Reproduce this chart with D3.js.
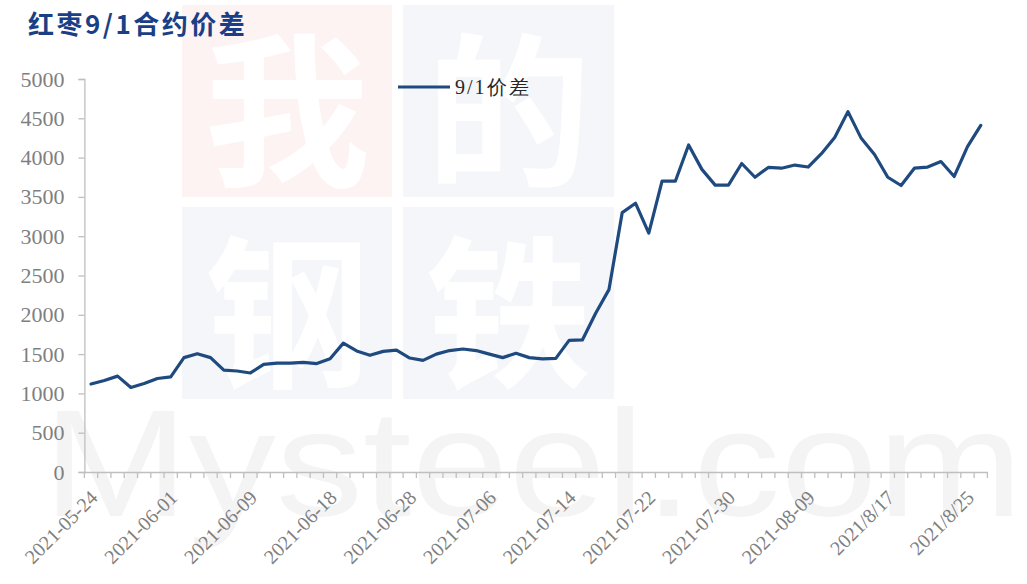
<!DOCTYPE html>
<html>
<head>
<meta charset="utf-8">
<script src="https://cdn.jsdelivr.net/npm/d3@7"></script>
<style>
html,body{margin:0;padding:0;background:#fff;}
svg{display:block;}
</style>
</head>
<body>
<svg id="chart" width="1027" height="584"></svg>
<script>
const categories = [
"2021-05-24","2021-05-25","2021-05-26","2021-05-27","2021-05-28","2021-05-31",
"2021-06-01","2021-06-02","2021-06-03","2021-06-04","2021-06-07","2021-06-08",
"2021-06-09","2021-06-10","2021-06-11","2021-06-15","2021-06-16","2021-06-17",
"2021-06-18","2021-06-21","2021-06-22","2021-06-23","2021-06-24","2021-06-25",
"2021-06-28","2021-06-29","2021-06-30","2021-07-01","2021-07-02","2021-07-05",
"2021-07-06","2021-07-07","2021-07-08","2021-07-09","2021-07-12","2021-07-13",
"2021-07-14","2021-07-15","2021-07-16","2021-07-19","2021-07-20","2021-07-21",
"2021-07-22","2021-07-23","2021-07-26","2021-07-27","2021-07-28","2021-07-29",
"2021-07-30","2021-08-02","2021-08-03","2021-08-04","2021-08-05","2021-08-06",
"2021-08-09","2021/8/10","2021/8/11","2021/8/12","2021/8/13","2021/8/16",
"2021/8/17","2021/8/18","2021/8/19","2021/8/20","2021/8/23","2021/8/24",
"2021/8/25","2021/8/26"
];
const spreadValues = [
1120,1165,1220,1075,1125,1190,
1210,1455,1505,1455,1295,1285,
1260,1370,1385,1385,1395,1380,
1440,1640,1540,1485,1535,1550,
1450,1420,1500,1545,1565,1545,
1500,1455,1510,1455,1440,1445,
1675,1680,2020,2320,3300,3420,
3040,3700,3700,4160,3850,3650,
3650,3925,3750,3875,3865,3905,
3880,4050,4255,4585,4245,4040,
3750,3645,3865,3880,3950,3760,
4140,4410
];
const yTicks = [0,500,1000,1500,2000,2500,3000,3500,4000,4500,5000];
const titleText = "红枣9/1合约价差";
const seriesName = "9/1价差";
const watermarkChars = ["我","的","钢","铁"];
const watermarkText = "Mysteel.com";

const svg = d3.select("#chart");
const plotLeft = 84.4, plotRight = 987.4, plotTop = 79, plotBottom = 472;

const x = d3.scaleBand().domain(categories).range([plotLeft, plotRight]).padding(0);
const y = d3.scaleLinear().domain([0, 5000]).range([plotBottom, plotTop]);

// watermark
const wm = svg.append("g");
const boxes = [
  {x:182, y:5, w:210, h:192, fill:"#fdf3f3"},
  {x:403, y:5, w:211, h:192, fill:"#f5f6fa"},
  {x:182, y:207, w:210, h:192, fill:"#f5f6fa"},
  {x:403, y:207, w:211, h:192, fill:"#f5f6fa"}
];
boxes.forEach((b,i)=>{
  wm.append("rect").attr("x",b.x).attr("y",b.y).attr("width",b.w).attr("height",b.h).attr("fill",b.fill);
  wm.append("text").attr("x",b.x+b.w/2).attr("y",b.y+b.h/2)
    .attr("text-anchor","middle").attr("dominant-baseline","central")
    .attr("font-family","'Noto Sans CJK SC'").attr("font-weight",700)
    .attr("font-size",165).attr("fill","#ffffff").text(watermarkChars[i]);
});
wm.append("text").attr("x",43).attr("y",516)
  .attr("font-family","'Liberation Sans', Arial, sans-serif")
  .attr("font-size",152).attr("fill","#f4f4f4")
  .attr("textLength",980).attr("lengthAdjust","spacingAndGlyphs")
  .text(watermarkText);

// title
svg.append("text").attr("x",28).attr("y",34)
  .attr("font-family","'Noto Sans CJK SC'").attr("font-weight",700)
  .attr("font-size",26).attr("letter-spacing",2.5).attr("fill","#1b3f86")
  .text(titleText);

const axisColor = "#bfbfbf";
const labelColor = "#7f7f7f";

// y axis
const yAxis = d3.axisLeft(y).tickValues(yTicks).tickSize(6).tickPadding(14).tickFormat(d3.format("d"));
const gy = svg.append("g").attr("transform",`translate(${plotLeft},0)`).call(yAxis);
gy.select(".domain").attr("stroke",axisColor).attr("stroke-width",1.3);
gy.selectAll(".tick line").attr("stroke",axisColor).attr("stroke-width",1.3);
gy.selectAll(".tick text").attr("fill",labelColor)
  .attr("font-family","'Liberation Serif', 'Times New Roman', serif").attr("font-size",22);

// x axis
const xAxis = d3.axisBottom(x).tickSize(0).tickFormat(d => d);
const gx = svg.append("g").attr("transform",`translate(0,${plotBottom})`).call(xAxis);
gx.select(".domain").attr("stroke",axisColor).attr("stroke-width",1.3);
gx.selectAll(".tick text").remove();
// boundary ticks
const boundaries = categories.map(c => x(c)).concat([x(categories[categories.length-1]) + x.bandwidth()]);
gx.selectAll("line.bt").data(boundaries).enter().append("line").attr("class","bt")
  .attr("x1",d=>d).attr("x2",d=>d).attr("y1",0).attr("y2",6)
  .attr("stroke",axisColor).attr("stroke-width",1.3);
// labels every 6
const labelled = categories.filter((c,i)=> i % 6 === 0);
gx.selectAll("text.lbl").data(labelled).enter().append("text").attr("class","lbl")
  .attr("transform", d => `translate(${x(d)+x.bandwidth()/2-2},${17}) rotate(-45)`)
  .attr("text-anchor","end").attr("dy","0.7em")
  .attr("font-family","'Liberation Serif', 'Times New Roman', serif").attr("font-size",20)
  .attr("fill",labelColor).text(d => d);

// line
const lineColor = "#1f4a7f";
const line = d3.line().x((d,i)=> x(categories[i]) + x.bandwidth()/2).y(d => y(d));
svg.append("path").datum(spreadValues).attr("d",line)
  .attr("fill","none").attr("stroke",lineColor).attr("stroke-width",3.2)
  .attr("stroke-linejoin","round").attr("stroke-linecap","round");

// legend
const lg = svg.append("g");
lg.append("line").attr("x1",398).attr("x2",450).attr("y1",87).attr("y2",87)
  .attr("stroke",lineColor).attr("stroke-width",3.2);
lg.append("text").attr("x",455).attr("y",94)
  .attr("font-family","'Liberation Serif', 'Times New Roman', serif").attr("font-size",20)
  .attr("letter-spacing",2).attr("fill","#262626").text(seriesName);
</script>
</body>
</html>
